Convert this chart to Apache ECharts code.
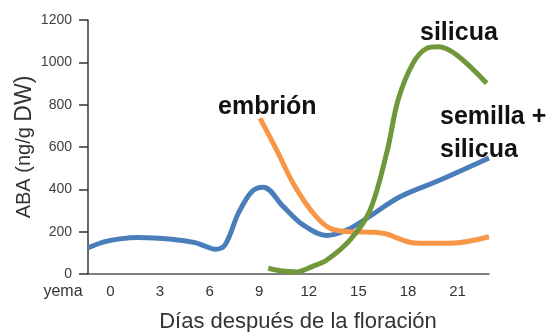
<!DOCTYPE html>
<html>
<head>
<meta charset="utf-8">
<script src="https://cdn.jsdelivr.net/npm/echarts@6/dist/echarts.min.js"></script>
<style>
html,body{margin:0;padding:0;background:#ffffff;}
#c{width:551px;height:332px;}
</style>
</head>
<body>
<div id="c"></div>
<script>
// ---- data ----
const xTickDays = [0, 3, 6, 9, 12, 15, 18, 21];
const budLabel = 'yema';
const xMin = -1.355;          // position of the bud ("yema") stage at the axis start
const xMax = 22.9;
const yMin = 0, yMax = 1200, yStep = 200;

// semilla + silicua (blue)
const seedPodDays = [-1.355, -0.33, 0.58, 1.69, 3.71, 5.12, 5.84, 6.33, 6.93, 7.74, 8.55, 9.25, 10.46, 11.67, 13.09, 14.3, 15.5, 17.52, 19.94, 22.9];
const seedPodABA  = [124, 153, 166, 172, 164, 148, 128, 117, 137, 287, 389, 410, 318, 231, 182, 208, 263, 365, 444, 548];

// embrión (orange)
const embryoDays = [9.05, 10.06, 11.06, 12.27, 13.28, 14.5, 15.89, 16.7, 17.52, 18.4, 20.54, 22.9];
const embryoABA  = [735, 585, 428, 287, 216, 200, 197, 189, 165, 147, 145, 176];

// silicua (green)
const podDays = [9.55, 10.38, 11.27, 12.2, 13.09, 14.5, 15.7, 16.73, 17.4, 18.3, 19.13, 19.84, 20.95, 22.76];
const podABA  = [27, 14, 10, 35, 66, 161, 300, 578, 822, 995, 1066, 1074, 1035, 901];

const seriesNames = ['semilla + silicua', 'embrión', 'silicua'];
const annotationTexts = ['silicua', 'embrión', 'semilla +\nsilicua'];
const yAxisName = ['ABA (ng/g ', 'DW)'];
const xAxisName = 'Días después de la floración';

const zip = (xs, ys) => xs.map((x, i) => [x, ys[i]]);
const FONT = "'Liberation Sans', Arial, sans-serif";

const chart = echarts.init(document.getElementById('c'), null, {renderer: 'canvas'});

const lineSeries = (name, data, color) => ({
  name: name,
  type: 'line',
  data: data,
  smooth: 0.35,
  showSymbol: false,
  symbol: 'none',
  clip: false,
  lineStyle: {width: 5, color: color},
  itemStyle: {color: color},
  emphasis: {disabled: true}
});

const option = {
  animation: false,
  backgroundColor: '#ffffff',
  grid: {left: 88, right: 62, top: 20, bottom: 58, containLabel: false, outerBoundsMode: 'none'},
  xAxis: {
    type: 'value',
    min: xMin,
    max: xMax,
    name: xAxisName,
    nameLocation: 'middle',
    nameGap: 37,
    nameMoveOverlap: false,
    nameTextStyle: {fontFamily: FONT, fontSize: 22, color: '#333333', padding: [0, 0, 0, 19]},
    axisLine: {show: true, onZero: false, lineStyle: {color: '#555555', width: 1.5}},
    axisTick: {show: false},
    splitLine: {show: false},
    axisLabel: {
      customValues: [xMin].concat(xTickDays),
      showMinLabel: true,
      margin: 10,
      fontFamily: FONT,
      fontSize: 15,
      color: '#333333',
      formatter: function (v) {
        if (Math.abs(v - xMin) < 1e-6) return '{bud|' + budLabel + '}';
        return String(v);
      },
      rich: {
        bud: {fontFamily: FONT, fontSize: 16, color: '#333333', padding: [0, 50, 0, 0]}
      }
    }
  },
  yAxis: {
    type: 'value',
    min: yMin,
    max: yMax,
    interval: yStep,
    name: '{a|' + yAxisName[0] + '}{b|' + yAxisName[1] + '}',
    nameLocation: 'middle',
    nameGap: 52,
    nameMoveOverlap: false,
    nameTextStyle: {
      rich: {
        a: {fontFamily: FONT, fontSize: 20, color: '#333333'},
        b: {fontFamily: FONT, fontSize: 23, color: '#333333'}
      }
    },
    axisLine: {show: true, onZero: false, lineStyle: {color: '#333333', width: 1.5}},
    axisTick: {show: true, inside: false, length: 9, lineStyle: {color: '#333333', width: 1.5}},
    splitLine: {show: false},
    axisLabel: {
      margin: 16, fontFamily: FONT, fontSize: 14, color: '#404040',
      formatter: function (v) { return String(v); }
    }
  },
  series: [
    lineSeries(seriesNames[0], zip(seedPodDays, seedPodABA), '#4A7EBB'),
    lineSeries(seriesNames[1], zip(embryoDays, embryoABA), '#F79646'),
    lineSeries(seriesNames[2], zip(podDays, podABA), '#70983A')
  ],
  graphic: [
    {type: 'text', left: 420, top: 21, z: 100,
     style: {text: annotationTexts[0], font: "bold 25px " + FONT, fill: '#111111'}},
    {type: 'text', left: 218, top: 95, z: 100,
     style: {text: annotationTexts[1], font: "bold 25px " + FONT, fill: '#111111'}},
    {type: 'text', left: 440, top: 101, z: 100,
     style: {text: annotationTexts[2], font: "bold 25px " + FONT, fill: '#111111', lineHeight: 33}}
  ]
};

chart.setOption(option);
</script>
</body>
</html>
